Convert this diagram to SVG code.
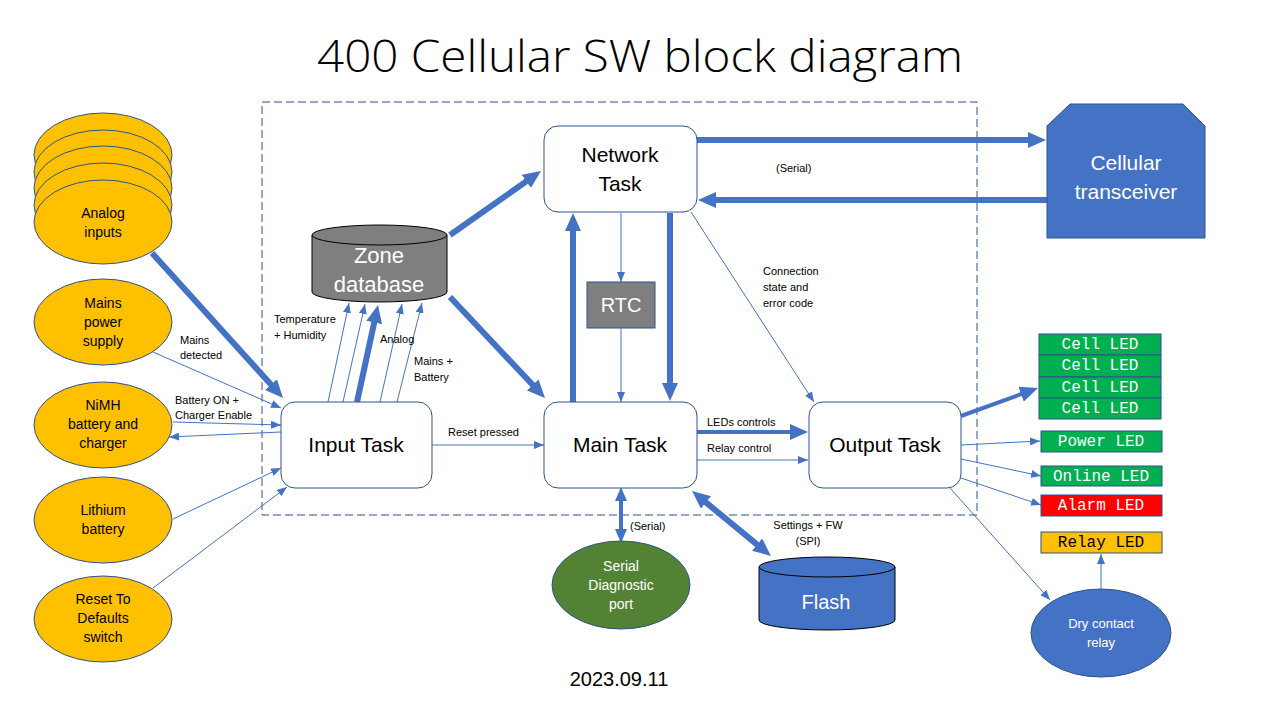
<svg xmlns="http://www.w3.org/2000/svg" width="1280" height="720" viewBox="0 0 1280 720">
<style>
.t{font-family:"Liberation Sans",Arial,sans-serif;text-anchor:middle}
.s{font-family:"Liberation Sans",Arial,sans-serif;font-size:11px;fill:#000}
.ell{fill:#FFC000;stroke:#2F528F;stroke-width:1}
.task{fill:#fff;stroke:#2F528F;stroke-width:1}
.led{font-family:"Liberation Mono","Courier New",monospace;font-size:16px;text-anchor:middle}
.thin{stroke:#4472C4;stroke-width:1;fill:none}
.thick{stroke:#4472C4;stroke-width:6;fill:none}
.mid{stroke:#4472C4;stroke-width:4;fill:none}
</style>
<defs>
<marker id="a" markerUnits="userSpaceOnUse" markerWidth="10" markerHeight="8" refX="10" refY="4" orient="auto"><path d="M0,0 L10,4 L0,8 z" fill="#4472C4"/></marker>
<marker id="A" markerUnits="userSpaceOnUse" markerWidth="18" markerHeight="16" refX="6" refY="8" orient="auto-start-reverse"><path d="M0,0 L18,8 L0,16 z" fill="#4472C4"/></marker>
<marker id="M" markerUnits="userSpaceOnUse" markerWidth="14" markerHeight="12" refX="4" refY="6" orient="auto-start-reverse"><path d="M0,0 L14,6 L0,12 z" fill="#4472C4"/></marker>
</defs>
<rect width="1280" height="720" fill="#fff"/>
<text x="640" y="72" font-family="'Open Sans','Liberation Sans',sans-serif" font-weight="300" font-size="44" text-anchor="middle" textLength="646" lengthAdjust="spacingAndGlyphs" fill="#000">400 Cellular SW block diagram</text>
<rect x="262" y="102" width="715" height="413" fill="none" stroke="#2F528F" stroke-width="1" stroke-dasharray="8,4"/>

<g id="connectors">
<line class="thick" x1="152" y1="253" x2="275" y2="389" marker-end="url(#A)"/>
<line class="thin" x1="328" y1="402" x2="349" y2="303" marker-end="url(#a)"/>
<line class="thin" x1="343" y1="402" x2="365" y2="304" marker-end="url(#a)"/>
<line class="thick" x1="357" y1="402" x2="375.5" y2="316.7" marker-end="url(#A)"/>
<line class="thin" x1="380" y1="402" x2="402" y2="304" marker-end="url(#a)"/>
<line class="thin" x1="397" y1="402" x2="422" y2="303" marker-end="url(#a)"/>
<line class="thick" x1="450" y1="235" x2="531.2" y2="177.9" marker-end="url(#A)"/>
<line class="thick" x1="450" y1="297" x2="536.8" y2="389.3" marker-end="url(#A)"/>
<line class="thick" x1="573" y1="402" x2="573" y2="225" marker-end="url(#A)"/>
<line class="thick" x1="670" y1="213" x2="670" y2="389" marker-end="url(#A)"/>
<line class="thin" x1="621" y1="213" x2="621" y2="282" marker-end="url(#a)"/>
<line class="thin" x1="621" y1="328" x2="621" y2="402" marker-end="url(#a)"/>
<line class="thick" x1="697" y1="140" x2="1034" y2="140" marker-end="url(#A)"/>
<line class="thick" x1="1047" y1="200" x2="710" y2="200" marker-end="url(#A)"/>
<line class="thin" x1="691" y1="212" x2="814" y2="402" marker-end="url(#a)"/>
<line class="mid" x1="697" y1="432" x2="796" y2="432" marker-end="url(#A)"/>
<line class="thin" x1="697" y1="460" x2="808" y2="460" marker-end="url(#a)"/>
<line class="thin" x1="432" y1="445" x2="544" y2="445" marker-end="url(#a)"/>
<line class="mid" x1="621" y1="497" x2="621" y2="533" marker-start="url(#M)" marker-end="url(#M)"/>
<line class="thick" x1="701.3" y1="498.6" x2="761.7" y2="548.4" marker-start="url(#A)" marker-end="url(#A)"/>
<line class="mid" x1="961" y1="416" x2="1026.7" y2="392.1" marker-end="url(#A)"/>
<line class="thin" x1="961" y1="445" x2="1040" y2="441" marker-end="url(#a)"/>
<line class="thin" x1="961" y1="459" x2="1041" y2="476" marker-end="url(#a)"/>
<line class="thin" x1="961" y1="478" x2="1041" y2="505" marker-end="url(#a)"/>
<line class="thin" x1="950" y1="488" x2="1050" y2="600" marker-end="url(#a)"/>
<line class="thin" x1="1101" y1="589" x2="1101" y2="554" marker-end="url(#a)"/>
<line class="thin" x1="153" y1="352" x2="281" y2="408" marker-end="url(#a)"/>
<line class="thin" x1="173" y1="422" x2="281" y2="425" marker-end="url(#a)"/>
<line class="thin" x1="281" y1="432" x2="169" y2="437" marker-end="url(#a)"/>
<line class="thin" x1="173" y1="519" x2="281" y2="468" marker-end="url(#a)"/>
<line class="thin" x1="153" y1="588" x2="287" y2="487" marker-end="url(#a)"/>
<text class="s" x="274" y="323">Temperature</text>
<text class="s" x="274" y="339">+ Humidity</text>
<text class="s" x="380" y="343">Analog</text>
<text class="s" x="414" y="365">Mains +</text>
<text class="s" x="414" y="381">Battery</text>
<text class="s" x="180" y="344">Mains</text>
<text class="s" x="180" y="359">detected</text>
<text class="s" x="175" y="404">Battery ON +</text>
<text class="s" x="175" y="419">Charger Enable</text>
<text class="s" x="448" y="436">Reset pressed</text>
<text class="s" x="707" y="426">LEDs controls</text>
<text class="s" x="707" y="452">Relay control</text>
<text class="s" x="776" y="172">(Serial)</text>
<text class="s" x="763" y="275">Connection</text>
<text class="s" x="763" y="291">state and</text>
<text class="s" x="763" y="307">error code</text>
<text class="s" x="630" y="530">(Serial)</text>
<text class="s" x="808" y="529" text-anchor="middle">Settings + FW</text>
<text class="s" x="808" y="545" text-anchor="middle">(SPI)</text>
</g>

<g id="analog-inputs">
<ellipse class="ell" cx="103" cy="155" rx="69" ry="42"/>
<ellipse class="ell" cx="103" cy="172" rx="69" ry="42"/>
<ellipse class="ell" cx="103" cy="188" rx="69" ry="42"/>
<ellipse class="ell" cx="103" cy="205" rx="69" ry="42"/>
<ellipse class="ell" cx="103" cy="222" rx="69" ry="42"/>
<text class="t" x="103" y="218" font-size="14">Analog</text>
<text class="t" x="103" y="237" font-size="14">inputs</text>
</g>
<g id="mains">
<ellipse class="ell" cx="103" cy="322" rx="69" ry="43"/>
<text class="t" x="103" y="308" font-size="14">Mains</text>
<text class="t" x="103" y="327" font-size="14">power</text>
<text class="t" x="103" y="346" font-size="14">supply</text>
</g>
<g id="nimh">
<ellipse class="ell" cx="103" cy="425" rx="69" ry="43"/>
<text class="t" x="103" y="410" font-size="14">NiMH</text>
<text class="t" x="103" y="429" font-size="14">battery and</text>
<text class="t" x="103" y="448" font-size="14">charger</text>
</g>
<g id="lithium">
<ellipse class="ell" cx="103" cy="520" rx="69" ry="43"/>
<text class="t" x="103" y="515" font-size="14">Lithium</text>
<text class="t" x="103" y="534" font-size="14">battery</text>
</g>
<g id="reset">
<ellipse class="ell" cx="103" cy="619" rx="69" ry="43"/>
<text class="t" x="103" y="604" font-size="14">Reset To</text>
<text class="t" x="103" y="623" font-size="14">Defaults</text>
<text class="t" x="103" y="642" font-size="14">switch</text>
</g>

<g id="input-task">
<rect class="task" x="281" y="402" width="151" height="86" rx="14"/>
<text class="t" x="356" y="452" font-size="21">Input Task</text>
</g>
<g id="main-task">
<rect class="task" x="544" y="402" width="153" height="86" rx="14"/>
<text class="t" x="620" y="452" font-size="21">Main Task</text>
</g>
<g id="output-task">
<rect class="task" x="809" y="402" width="152" height="86" rx="14"/>
<text class="t" x="885" y="452" font-size="21">Output Task</text>
</g>
<g id="network-task">
<rect class="task" x="544" y="126" width="153" height="86" rx="14"/>
<text class="t" x="620" y="162" font-size="21">Network</text>
<text class="t" x="620" y="191" font-size="21">Task</text>
</g>
<g id="rtc">
<rect x="587" y="282" width="68" height="46" fill="#7F7F7F" stroke="#2F528F"/>
<text class="t" x="621" y="312" font-size="20" fill="#fff">RTC</text>
</g>
<g id="zone-db">
<path d="M312,235 L312,292 A67.5,10 0 0 0 447,292 L447,235 Z" fill="#7F7F7F" stroke="#000"/>
<ellipse cx="379.5" cy="235" rx="67.5" ry="10" fill="#7F7F7F" stroke="#000"/>
<text class="t" x="379" y="263" font-size="22" fill="#fff">Zone</text>
<text class="t" x="379" y="292" font-size="22" fill="#fff">database</text>
</g>
<g id="flash">
<path d="M759,567 L759,620 A68,10 0 0 0 895,620 L895,567 Z" fill="#4472C4" stroke="#000"/>
<ellipse cx="827" cy="567" rx="68" ry="10" fill="#4472C4" stroke="#000"/>
<text class="t" x="826" y="609" font-size="20" fill="#fff">Flash</text>
</g>
<g id="serial-port">
<ellipse cx="621" cy="585" rx="69" ry="44" fill="#548235" stroke="#2F528F"/>
<text class="t" x="621" y="571" font-size="14" fill="#fff">Serial</text>
<text class="t" x="621" y="590" font-size="14" fill="#fff">Diagnostic</text>
<text class="t" x="621" y="609" font-size="14" fill="#fff">port</text>
</g>
<g id="cellular">
<path d="M1047,126 L1070,104 L1183,104 L1205,126 L1205,238 L1047,238 Z" fill="#4472C4" stroke="#2F528F"/>
<text class="t" x="1126" y="170" font-size="21" fill="#fff">Cellular</text>
<text class="t" x="1126" y="199" font-size="21" fill="#fff">transceiver</text>
</g>
<g id="cell-leds">
<rect x="1039" y="334" width="122" height="21" fill="#00B050" stroke="#2F528F"/>
<rect x="1039" y="355" width="122" height="22" fill="#00B050" stroke="#2F528F"/>
<rect x="1039" y="377" width="122" height="21" fill="#00B050" stroke="#2F528F"/>
<rect x="1039" y="398" width="122" height="21" fill="#00B050" stroke="#2F528F"/>
<text class="led" x="1100" y="349" fill="#fff">Cell LED</text>
<text class="led" x="1100" y="370" fill="#fff">Cell LED</text>
<text class="led" x="1100" y="392" fill="#fff">Cell LED</text>
<text class="led" x="1100" y="413" fill="#fff">Cell LED</text>
</g>
<g id="power-led">
<rect x="1041" y="431" width="121" height="21" fill="#00B050" stroke="#2F528F"/>
<text class="led" x="1101" y="446" fill="#fff">Power LED</text>
</g>
<g id="online-led">
<rect x="1041" y="466" width="121" height="20" fill="#00B050" stroke="#2F528F"/>
<text class="led" x="1101" y="481" fill="#fff">Online LED</text>
</g>
<g id="alarm-led">
<rect x="1041" y="495" width="121" height="21" fill="#FF0000" stroke="#2F528F"/>
<text class="led" x="1101" y="510" fill="#fff">Alarm LED</text>
</g>
<g id="relay-led">
<rect x="1041" y="532" width="121" height="21" fill="#FFC000" stroke="#2F528F"/>
<text class="led" x="1101" y="547" fill="#000">Relay LED</text>
</g>
<g id="dry-contact">
<ellipse cx="1101" cy="633" rx="70" ry="44" fill="#4472C4" stroke="#2F528F"/>
<text class="t" x="1101" y="628" font-size="13" fill="#fff">Dry contact</text>
<text class="t" x="1101" y="647" font-size="13" fill="#fff">relay</text>
</g>
<text class="t" x="619" y="686" font-size="20" fill="#000">2023.09.11</text>
</svg>
